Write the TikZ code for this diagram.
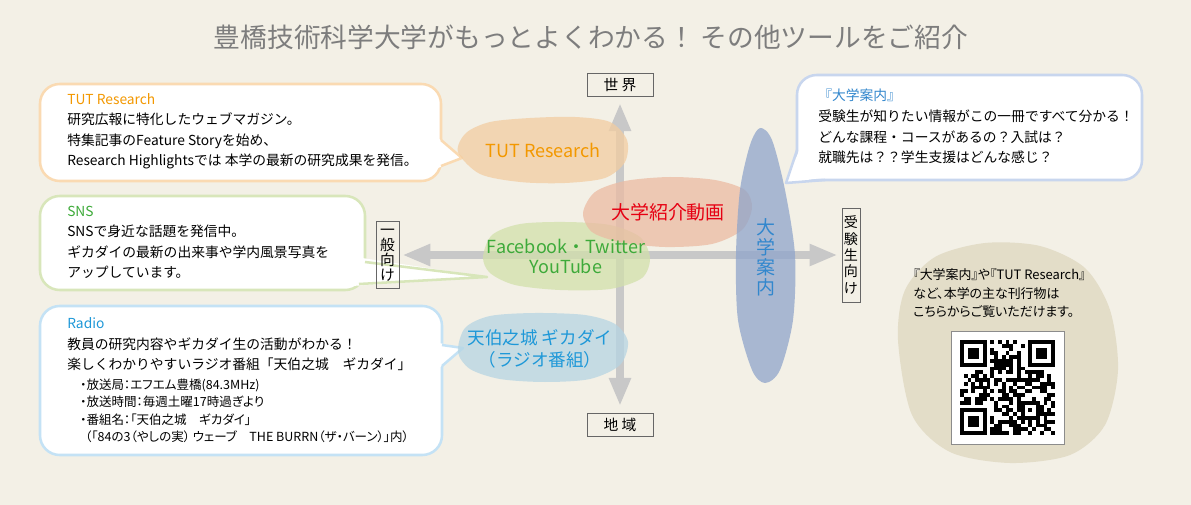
\documentclass[tikz,border=0pt]{standalone}
\usepackage{fontspec}
\setmainfont{Noto Sans CJK JP}
\usetikzlibrary{arrows.meta}

\definecolor{bgbeige}{RGB}{243,240,230}
\definecolor{titlegray}{RGB}{125,125,125}
\definecolor{axisgray}{RGB}{200,200,200}
\definecolor{tutorange}{RGB}{243,152,0}
\definecolor{snsgreen}{RGB}{62,170,58}
\definecolor{radioblue}{RGB}{30,152,216}
\definecolor{guideblue}{RGB}{50,135,205}
\definecolor{movred}{RGB}{230,0,18}
\definecolor{tutline}{RGB}{250,218,178}
\definecolor{snsline}{RGB}{216,230,186}
\definecolor{radioline}{RGB}{196,226,245}
\definecolor{guideline}{RGB}{200,214,238}
\definecolor{tutblob}{RGB}{242,205,161}
\definecolor{movblob}{RGB}{235,187,163}
\definecolor{snsblob}{RGB}{210,224,171}
\definecolor{radioblob}{RGB}{182,213,227}
\definecolor{guideblob}{RGB}{143,165,203}
\definecolor{qrblob}{RGB}{227,221,200}

\tikzset{
    bubble/.style={fill=white, line width=1.8pt, rounded corners=14pt},
    tailfill/.style={fill=white},
    tailline/.style={line width=1.8pt, line join=round},
    blob/.style={fill opacity=0.75},
    bodytext/.style={anchor=north west, inner sep=0pt, align=left, font=\fontsize{9.8}{14.6}\selectfont},
    blobtext/.style={align=center, inner sep=0pt, font=\fontsize{13.5}{14.2}\selectfont},
    axislabel/.style={draw=black!60, line width=0.6pt, inner sep=0pt, align=center, font=\fontsize{10.5}{10.7}\selectfont},
    axisarrow/.style={axisgray, line width=5pt, {Triangle[length=20pt,width=14.5pt]}-{Triangle[length=20pt,width=14.5pt]}},
}

\begin{document}
\begin{tikzpicture}[x=0.025cm, y=-0.025cm]
    \fill[bgbeige] (0,0) rectangle (1191,505);
    \useasboundingbox (0,0) rectangle (1191,505);

    \node[text=titlegray, font=\fontsize{19}{20}\selectfont] (title) at (591,37) {豊橋技術科学大学がもっとよくわかる！ その他ツールをご紹介};

    % QR corner
    \fill[qrblob] plot[smooth cycle] coordinates {(898,340) (905,290) (935,257) (985,243) (1040,246) (1085,268) (1110,310) (1118,370) (1105,425) (1070,455) (1010,463) (950,452) (912,415)};
    \draw[fill=white, draw=black!45, line width=0.6pt] (951,331) rectangle (1064,444);
    \pgfmathsetseed{1234}
    \foreach \i in {0,...,24}{
        \foreach \j in {0,...,24}{
            \pgfmathrandominteger{\qrbit}{0}{1}
            \ifnum\qrbit=1
                \fill (960+3.8*\i,340+3.8*\j) rectangle ++(3.8,3.8);
            \fi
        }
    }
    \foreach \fx/\fy in {0/0,18/0,0/18}{
        \fill[white] (956.2+3.8*\fx,336.2+3.8*\fy) rectangle ++(34.2,34.2);
        \fill (960+3.8*\fx,340+3.8*\fy) rectangle ++(26.6,26.6);
        \fill[white] (963.8+3.8*\fx,343.8+3.8*\fy) rectangle ++(19,19);
        \fill (967.6+3.8*\fx,347.6+3.8*\fy) rectangle ++(11.4,11.4);
    }
    \fill (1020.8,400.8) rectangle ++(19,19);
    \fill[white] (1024.6,404.6) rectangle ++(11.4,11.4);
    \fill (1028.4,408.4) rectangle ++(3.8,3.8);

    \node[bodytext, font=\fontsize{9.2}{13.2}\selectfont\addfontfeature{RawFeature=+palt}] (qrtext) at (913,268.5)
        {『大学案内』や『TUT Research』\\など、本学の主な刊行物は\\こちらからご覧いただけます。};

    % bubbles
    \draw[bubble, draw=tutline] (40,84) rectangle (441,181);
    \fill[tailfill] (438,138) -- (462,158) -- (438,168) -- cycle;
    \draw[tailline, tutline] (441,140) -- (462,158) -- (441,166);

    \draw[bubble, draw=snsline] (40,196) rectangle (365,290);
    \fill[tailfill] (362,258) -- (487,277) -- (352,286) -- cycle;
    \draw[tailline, snsline] (365,262) -- (487,277) -- (359,284);

    \draw[bubble, draw=radioline] (40,306) rectangle (442,455);
    \fill[tailfill] (439,343) -- (463,348) -- (439,368) -- cycle;
    \draw[tailline, radioline] (442,345) -- (463,348) -- (442,366);

    \draw[bubble, draw=guideline] (797,75) rectangle (1142,180);
    \fill[tailfill] (800,148) -- (786,183) -- (828,177) -- cycle;
    \draw[tailline, guideline] (797,150) -- (786,183) -- (825,180);

    % axes
    \node[axislabel, minimum width=1.65cm, minimum height=0.575cm] (world) at (620,85) {世 界};
    \node[axislabel, minimum width=1.65cm, minimum height=0.575cm] (local) at (620,425) {地 域};
    \node[axislabel, minimum width=0.575cm, minimum height=1.675cm] (general) at (387.5,255) {一\\般\\向\\け};
    \node[axislabel, minimum width=0.45cm, minimum height=2.35cm, font=\fontsize{10}{11.7}\selectfont] (exam) at (851,255) {受\\験\\生\\向\\け};

    \draw[axisarrow, shorten <=4.3pt, shorten >=5pt] (world) -- (local);
    \draw[axisarrow, shorten <=2pt, shorten >=2.8pt] (general) -- (exam);

    % blobs
    \fill[tutblob, blob] plot[smooth cycle] coordinates {(458,152) (466,133) (490,122) (530,118) (575,117) (610,122) (627,140) (625,162) (605,178) (565,183) (520,182) (480,174)};
    \fill[snsblob, blob] plot[smooth cycle] coordinates {(483,257) (492,235) (520,224) (565,222) (610,225) (640,237) (650,258) (642,278) (610,289) (560,290) (515,285) (490,273)};
    \fill[movblob, blob] plot[smooth cycle] coordinates {(583,213) (595,192) (625,181) (670,177) (715,180) (745,190) (752,208) (742,230) (712,244) (665,247) (620,242) (592,232)};
    \fill[radioblob, blob] plot[smooth cycle] coordinates {(458,352) (465,328) (490,316) (535,313) (585,315) (615,324) (628,342) (620,365) (590,379) (545,382) (500,379) (470,369)};
    \fill[guideblob, blob] plot[smooth cycle] coordinates {(736,255) (740,190) (750,145) (760,128) (772,140) (785,190) (795,255) (793,320) (780,370) (765,383) (752,370) (738,320)};

    \node[blobtext, text=tutorange, font=\fontsize{12.8}{14.2}\selectfont] (tutlabel) at (543,150) {TUT Research};
    \node[blobtext, text=movred] (movlabel) at (668,212) {大学紹介動画};
    \node[blobtext, text=snsgreen, font=\fontsize{12.8}{14.2}\selectfont] (snslabel) at (566,256) {Facebook・Twitter\\YouTube};
    \node[blobtext, text=radioblue, font=\fontsize{12.5}{15.6}\selectfont] (radiolabel) at (540,349) {天伯之城 ギカダイ\\（ラジオ番組）};
    \node[blobtext, text=guideblue] (guidelabel) at (766,257) {大\\学\\案\\内};

    % bubble texts
    \node[bodytext] (tuttext) at (67,93)
        {\textcolor{tutorange}{TUT Research}\\研究広報に特化したウェブマガジン。\\特集記事のFeature Storyを始め、\\Research Highlightsでは 本学の最新の研究成果を発信。};
    \node[bodytext] (snstext) at (67,205.5)
        {\textcolor{snsgreen}{SNS}\\SNSで身近な話題を発信中。\\ギカダイの最新の出来事や学内風景写真を\\アップしています。};
    \node[bodytext] (radiotext) at (67,317.6)
        {\textcolor{radioblue}{Radio}\\教員の研究内容やギカダイ生の活動がわかる！\\楽しくわかりやすいラジオ番組「天伯之城　ギカダイ」};
    \node[bodytext, font=\fontsize{8.9}{12.3}\selectfont\addfontfeature{RawFeature=+palt}] (radiodata) at (80,378.7)
        {・放送局：エフエム豊橋(84.3MHz)\\・放送時間：毎週土曜17時過ぎより\\・番組名：「天伯之城　ギカダイ」\\\hspace*{3.5pt}（「84の3（やしの実） ウェーブ　THE BURRN（ザ・バーン）」内）};
    \node[bodytext] (guidetext) at (818,89)
        {\textcolor{guideblue}{『大学案内』}\\受験生が知りたい情報がこの一冊ですべて分かる！\\どんな課程・コースがあるの？入試は？\\就職先は？？学生支援はどんな感じ？};
\end{tikzpicture}
\end{document}
